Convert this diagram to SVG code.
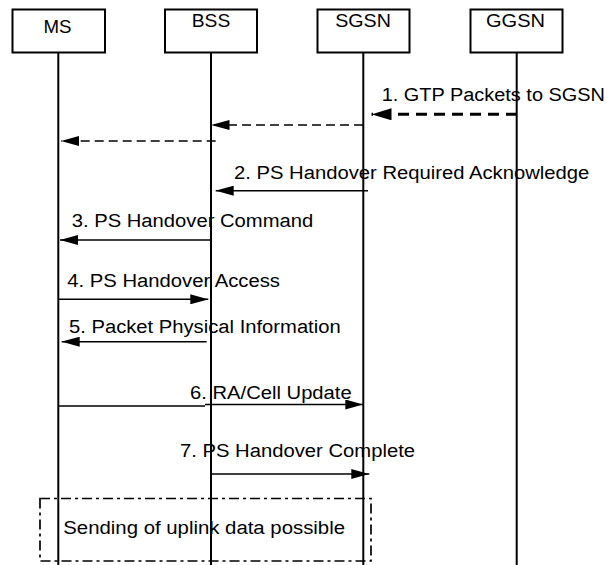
<svg xmlns="http://www.w3.org/2000/svg" width="608" height="565" viewBox="0 0 608 565">
<style>
.box{fill:#fff;stroke:#000;stroke-width:2}
.life{stroke:#000;stroke-width:2;fill:none}
.msg{stroke:#000;stroke-width:1.5;fill:none}
.dash{stroke:#000;stroke-width:1.5;fill:none;stroke-dasharray:9 5}
.thick{stroke:#000;stroke-width:3;fill:none;stroke-dasharray:11 7}
.area{stroke:#000;stroke-width:1.7;fill:none;stroke-dasharray:10 4 3 4}
text{font-family:"Liberation Sans",Arial,sans-serif;font-size:18px;fill:#000}
</style>
<defs>
<marker id="ah" viewBox="0 0 18 10" refX="18" refY="5" markerWidth="18" markerHeight="10" markerUnits="userSpaceOnUse" orient="auto">
<path d="M0,0 L18,5 L0,10 z" fill="#000" stroke="none"/>
</marker>
<marker id="ahb" viewBox="0 0 20 12" refX="20" refY="6" markerWidth="20" markerHeight="12" markerUnits="userSpaceOnUse" orient="auto">
<path d="M0,0 L20,6 L0,12 z" fill="#000" stroke="none"/>
</marker>
</defs>
<g id="node-MS">
<rect class="box" x="12.5" y="9.5" width="92.5" height="43"/>
<line class="life" x1="58.3" y1="52.5" x2="58.3" y2="565"/>
<text x="57.5" y="33" text-anchor="middle" textLength="28" lengthAdjust="spacingAndGlyphs">MS</text>
</g>
<g id="node-BSS">
<rect class="box" x="165" y="9.5" width="92" height="43"/>
<line class="life" x1="211" y1="52.5" x2="211" y2="565"/>
<text x="211" y="27" text-anchor="middle" textLength="38.5" lengthAdjust="spacingAndGlyphs">BSS</text>
</g>
<g id="node-SGSN">
<rect class="box" x="317.5" y="9.5" width="92" height="43"/>
<line class="life" x1="363.3" y1="52.5" x2="363.3" y2="565"/>
<text x="363" y="27" text-anchor="middle" textLength="55.7" lengthAdjust="spacingAndGlyphs">SGSN</text>
</g>
<g id="node-GGSN">
<rect class="box" x="470.5" y="9.5" width="92" height="43"/>
<line class="life" x1="516.7" y1="52.5" x2="516.7" y2="565"/>
<text x="515.5" y="27" text-anchor="middle" textLength="59" lengthAdjust="spacingAndGlyphs">GGSN</text>
</g>
<g id="connectors">
<line class="thick" x1="517" y1="114.3" x2="371.5" y2="114.3" marker-end="url(#ahb)"/>
<line class="dash" x1="363" y1="125" x2="211.5" y2="125" marker-end="url(#ah)"/>
<line class="dash" x1="215.7" y1="141" x2="61" y2="141" marker-end="url(#ah)"/>
<line class="msg" x1="368" y1="190.7" x2="215.7" y2="190.7" marker-end="url(#ah)"/>
<line class="msg" x1="211" y1="240" x2="60" y2="240" marker-end="url(#ah)"/>
<line class="msg" x1="58.3" y1="299.3" x2="208.3" y2="299.3" marker-end="url(#ah)"/>
<line class="msg" x1="206.7" y1="341.7" x2="61.7" y2="341.7" marker-end="url(#ah)"/>
<line class="msg" x1="58.3" y1="406" x2="205" y2="406"/>
<line class="msg" x1="205" y1="404.5" x2="363.3" y2="404.5" marker-end="url(#ah)"/>
<line class="msg" x1="211" y1="474" x2="369.3" y2="474" marker-end="url(#ah)"/>
</g>
<g id="labels">
<text x="381.7" y="100.7" textLength="223.3" lengthAdjust="spacingAndGlyphs">1. GTP Packets to SGSN</text>
<text x="234" y="179" textLength="355.3" lengthAdjust="spacingAndGlyphs">2. PS Handover Required Acknowledge</text>
<text x="71.7" y="226.7" textLength="241.6" lengthAdjust="spacingAndGlyphs">3. PS Handover Command</text>
<text x="67.3" y="287.3" textLength="212.7" lengthAdjust="spacingAndGlyphs">4. PS Handover Access</text>
<text x="69" y="333.3" textLength="271.7" lengthAdjust="spacingAndGlyphs">5. Packet Physical Information</text>
<text x="190" y="399.3" textLength="161.7" lengthAdjust="spacingAndGlyphs">6. RA/Cell Update</text>
<text x="180" y="457.3" textLength="235" lengthAdjust="spacingAndGlyphs">7. PS Handover Complete</text>
</g>
<g id="uplink-area">
<rect class="area" x="40" y="498.5" width="331" height="62.5"/>
<text x="63.3" y="534" textLength="281.7" lengthAdjust="spacingAndGlyphs">Sending of uplink data possible</text>
</g>
</svg>
